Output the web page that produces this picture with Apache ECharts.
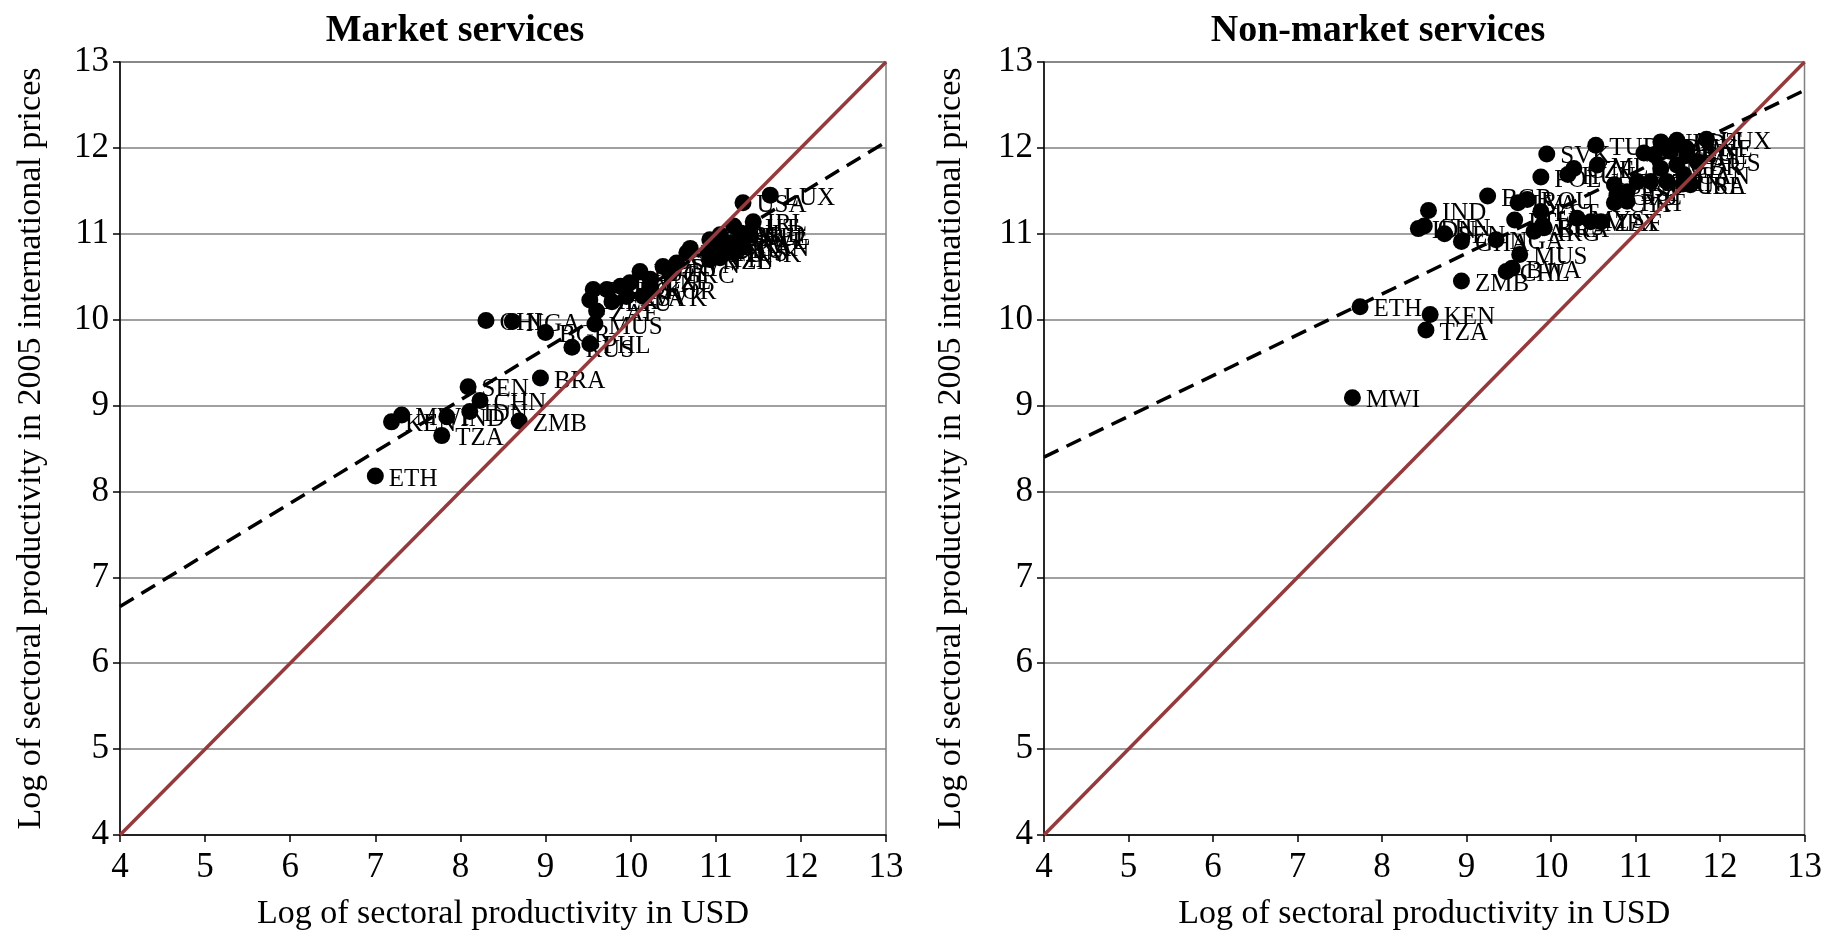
<!DOCTYPE html>
<html>
<head>
<meta charset="utf-8">
<script src="https://cdn.jsdelivr.net/npm/echarts@6/dist/echarts.min.js"></script>
<style>
    html, body { margin: 0; padding: 0; background: #fff; }
    #chart { width: 1825px; height: 936px; }
</style>
</head>
<body>
<div id="chart"></div>
<script>
// axis ticks (both panels use the same range)
const tickValues = [4, 5, 6, 7, 8, 9, 10, 11, 12, 13];

// market services
const mktNames = ['ETH', 'KEN', 'MWI', 'TZA', 'IND', 'IDN', 'SEN', 'CHN', 'ZMB', 'BRA',
    'CHL', 'NGA', 'BGR', 'RUS', 'PHL', 'MUS', 'ZAF', 'MEX', 'TUR', 'ARG',
    'LTU', 'POL', 'LVA', 'HUN', 'EST', 'SVK', 'CZE', 'KOR', 'PRT', 'GRC',
    'SVN', 'ESP', 'CYP', 'ITA', 'JPN', 'NZL', 'GBR', 'DEU', 'FIN', 'FRA',
    'AUT', 'DNK', 'NLD', 'CAN', 'BEL', 'SWE', 'AUS', 'IRL', 'USA', 'LUX'];
const mktX = [7.00, 7.19, 7.31, 7.78, 7.84, 8.11, 8.09, 8.23, 8.69, 8.94,
    8.30, 8.61, 9.00, 9.31, 9.52, 9.58, 9.60, 9.52, 9.56, 9.72,
    9.78, 9.88, 9.95, 9.99, 10.11, 10.15, 10.23, 10.23, 10.38, 10.46,
    10.54, 10.66, 10.70, 10.93, 10.91, 10.93, 11.05, 11.05, 11.05, 11.17,
    11.21, 11.21, 11.29, 11.32, 11.40, 11.30, 11.10, 11.44, 11.32, 11.64];
const mktY = [8.18, 8.81, 8.89, 8.65, 8.87, 8.93, 9.22, 9.06, 8.82, 9.32,
    9.99, 9.98, 9.85, 9.68, 9.72, 9.95, 10.10, 10.23, 10.35, 10.35,
    10.21, 10.39, 10.27, 10.43, 10.56, 10.27, 10.47, 10.35, 10.62, 10.54,
    10.66, 10.78, 10.83, 10.93, 10.79, 10.70, 10.99, 10.83, 10.72, 10.89,
    11.09, 10.78, 11.01, 10.85, 10.98, 10.93, 10.80, 11.14, 11.36, 11.45];

// non-market services
const nonNames = ['MWI', 'ETH', 'TZA', 'KEN', 'IND', 'IDN', 'CHN', 'SEN', 'GHA', 'ZMB',
    'BGR', 'NGA', 'CHL', 'BWA', 'MUS', 'LTU', 'LVA', 'ROU', 'ARG', 'EST',
    'BRA', 'RUS', 'POL', 'SVK', 'HUN', 'CZE', 'MLT', 'TUR', 'MYS', 'MEX',
    'ZAF', 'CYP', 'PRT', 'GRC', 'ESP', 'SVN', 'KOR', 'ITA', 'JPN', 'CAN',
    'USA', 'NZL', 'GBR', 'AUS', 'FIN', 'FRA', 'DEU', 'BEL', 'NLD', 'AUT',
    'DNK', 'SWE', 'IRL', 'LUX'];
const nonX = [7.65, 7.74, 8.52, 8.57, 8.55, 8.43, 8.50, 8.74, 8.94, 8.94,
    9.25, 9.35, 9.47, 9.54, 9.63, 9.57, 9.61, 9.72, 9.80, 9.88,
    9.92, 9.90, 9.88, 9.95, 10.20, 10.27, 10.55, 10.53, 10.31, 10.47,
    10.59, 10.75, 10.90, 10.78, 10.90, 10.75, 11.02, 11.18, 11.37, 11.57,
    11.56, 11.30, 11.49, 11.73, 11.10, 11.22, 11.41, 11.61, 11.30, 11.49,
    11.40, 11.60, 11.65, 11.84];
const nonY = [9.09, 10.15, 9.88, 10.06, 11.27, 11.06, 11.09, 11.00, 10.91, 10.45,
    11.44, 10.93, 10.56, 10.60, 10.76, 11.16, 11.36, 11.40, 11.03, 11.26,
    11.07, 11.10, 11.66, 11.93, 11.69, 11.76, 11.80, 12.03, 11.18, 11.14,
    11.14, 11.36, 11.38, 11.45, 11.49, 11.57, 11.61, 11.61, 11.61, 11.69,
    11.58, 11.76, 11.80, 11.84, 11.94, 11.92, 11.96, 11.92, 12.07, 12.09,
    12.02, 12.00, 11.57, 12.10];

// 45 degree line and fitted (dashed) lines, end points
const lineX = [4, 13];
const diagY = [4, 13];
const mktFitY = [6.66, 12.07];
const nonFitY = [8.40, 12.67];

const FONT = "'Liberation Serif', 'Times New Roman', serif";

function toPoints(xs, ys, names) {
    return xs.map((x, i) => ({ value: [x, ys[i]], name: names ? names[i] : '' }));
}

function makeX(idx) {
    return {
        gridIndex: idx, type: 'value',
        min: tickValues[0], max: tickValues[tickValues.length - 1], interval: 1,
        name: 'Log of sectoral productivity in USD',
        nameLocation: 'middle', nameGap: 62,
        nameTextStyle: { fontFamily: FONT, fontSize: 34, color: '#000' },
        axisLine: { show: true, lineStyle: { color: '#000', width: 1.5 } },
        axisTick: { show: true, length: 7, lineStyle: { color: '#000', width: 1.5 } },
        axisLabel: { fontFamily: FONT, fontSize: 35, color: '#000', margin: 15 },
        splitLine: { show: false }
    };
}

function makeY(idx, gap) {
    return {
        gridIndex: idx, type: 'value',
        min: tickValues[0], max: tickValues[tickValues.length - 1], interval: 1,
        name: 'Log of sectoral productivity in 2005 international prices',
        nameLocation: 'middle', nameGap: gap, nameRotate: 90,
        nameTextStyle: { fontFamily: FONT, fontSize: 34, color: '#000' },
        axisLine: { show: true, lineStyle: { color: '#000', width: 1.5 } },
        axisTick: { show: true, length: 7, lineStyle: { color: '#000', width: 1.5 } },
        axisLabel: { fontFamily: FONT, fontSize: 35, color: '#000', margin: 11 },
        splitLine: { show: true, lineStyle: { color: '#808080', width: 1.5 } }
    };
}

function scatter(idx, xs, ys, names) {
    return {
        type: 'scatter', xAxisIndex: idx, yAxisIndex: idx,
        symbol: 'circle', symbolSize: 17,
        itemStyle: { color: '#000', opacity: 1 },
        data: toPoints(xs, ys, names),
        label: {
            show: true, position: 'right', distance: 5, offset: [0, 3],
            formatter: p => p.name,
            fontFamily: FONT, fontSize: 25, color: '#000', opacity: 1
        },
        z: 2
    };
}

function line(idx, ys, color, type, width) {
    return {
        type: 'line', xAxisIndex: idx, yAxisIndex: idx,
        data: toPoints(lineX, ys), symbol: 'none', silent: true,
        lineStyle: { color: color, type: type, width: width, opacity: 1 },
        z: 3
    };
}

const chart = echarts.init(document.getElementById('chart'), null, { renderer: 'canvas' });

const option = {
    backgroundColor: '#fff',
    animation: false,
    title: [
        { text: 'Market services', left: 450, top: 7, textAlign: 'center',
          textStyle: { fontFamily: FONT, fontSize: 38, fontWeight: 'bold', color: '#000' } },
        { text: 'Non-market services', left: 1373, top: 7, textAlign: 'center',
          textStyle: { fontFamily: FONT, fontSize: 38, fontWeight: 'bold', color: '#000' } }
    ],
    grid: [
        { left: 120, top: 62, width: 766, height: 774, show: true, borderColor: '#808080', borderWidth: 1.5 },
        { left: 1044, top: 62, width: 764, height: 774, show: true, borderColor: '#808080', borderWidth: 1.5 }
    ],
    xAxis: [makeX(0), makeX(1)],
    yAxis: [makeY(0, 72), makeY(1, 76)],
    series: [
        scatter(0, mktX, mktY, mktNames),
        line(0, diagY, '#953a3c', 'solid', 3.5),
        line(0, mktFitY, '#000', [16, 9], 3.5),
        scatter(1, nonX, nonY, nonNames),
        line(1, diagY, '#953a3c', 'solid', 3.5),
        line(1, nonFitY, '#000', [16, 9], 3.5)
    ]
};

chart.setOption(option);
window.addEventListener('resize', () => chart.resize());
</script>
</body>
</html>
